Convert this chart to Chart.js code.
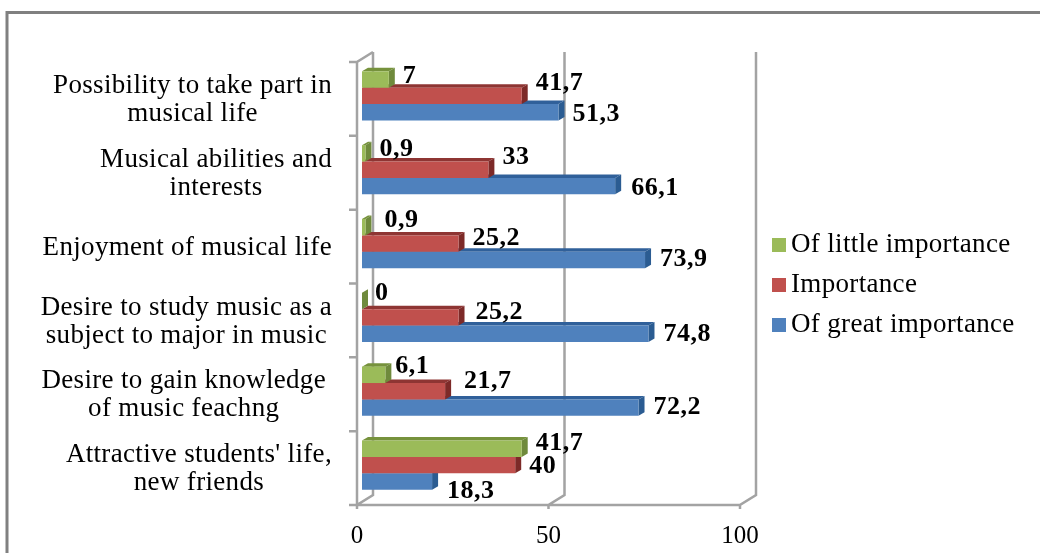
<!DOCTYPE html>
<html>
<head>
<meta charset="utf-8">
<style>
  html, body { margin: 0; padding: 0; background: #fff; }
  #wrap { width: 1040px; height: 553px; }
</style>
<script src="https://cdn.jsdelivr.net/npm/chart.js@4"></script>
</head>
<body>
<div id="wrap"><canvas id="grafico" width="1040" height="553"></canvas></div>
<script>
// Dados
const categorias = [
  ['Possibility to take part in', 'musical life'],
  ['Musical abilities and', 'interests'],
  ['Enjoyment of musical life'],
  ['Desire to study music as a', 'subject to major in music'],
  ['Desire to gain knowledge', 'of music feachng'],
  ["Attractive students' life,", 'new friends']
];
const poucaImportancia = [7, 0.9, 0.9, 0, 6.1, 41.7];
const importancia = [41.7, 33, 25.2, 25.2, 21.7, 40];
const grandeImportancia = [51.3, 66.1, 73.9, 74.8, 72.2, 18.3];
const ticksX = [0, 50, 100];

// Deslocamento dos rótulos em relação ao fim da barra
const ajusteRotulos = [
  [[14, -5], [14, -6], [19, -8], [13, -9], [10, -10], [14, -7]],
  [[14, -14], [14, -14], [14, -7], [17, -7], [19, -11], [14, 0]],
  [[14, 0], [16, 1], [15, -2], [15, -1], [15, -2], [15, 8]]
];
const ajusteCategorias = [0, 0, 0, 0, -6, 0];
const coresLaterais = ['#6f8a3c', '#7d2a28', '#2b5c92'];
const coresTopo = ['#76923c', '#8e3533', '#30609a'];

const FONTE = '"Liberation Serif"';
const CINZA = '#a3a3a3';

// Paredes, eixos e moldura
const pluginFundo = {
  id: 'fundo',
  beforeDatasetsDraw(chart) {
    const { ctx, chartArea, scales: { x } } = chart;
    const base = chartArea.bottom + 3;
    const topo = chartArea.top + 3;
    ctx.save();
    ctx.strokeStyle = '#808080';
    ctx.lineWidth = 3;
    ctx.beginPath();
    ctx.moveTo(1040, 12.5);
    ctx.lineTo(7, 12.5);
    ctx.lineTo(7, 553);
    ctx.stroke();

    ctx.strokeStyle = CINZA;
    ctx.lineWidth = 2.5;
    ctx.beginPath();
    ticksX.forEach(v => {
      const px = x.getPixelForValue(v) - 5;
      ctx.moveTo(px, base + 4);
      ctx.lineTo(px, base);
      ctx.lineTo(px + 16, base - 10);
      ctx.lineTo(px + 16, topo - 10);
    });
    const x0 = x.getPixelForValue(0) - 5;
    ctx.moveTo(x0 + 16, topo - 10);
    ctx.lineTo(x0, topo);
    ctx.lineTo(x0, base);
    ctx.lineTo(x.getPixelForValue(100) - 5, base);
    for (let i = 0; i <= categorias.length; i++) {
      const py = topo + (base - topo) * i / categorias.length;
      ctx.moveTo(x0 - 8, py);
      ctx.lineTo(x0, py);
    }
    ctx.stroke();
    ctx.restore();
  },
  // Faces laterais de cada barra
  beforeDatasetDraw(chart, args) {
    const { ctx } = chart;
    const i = args.index;
    const dx = 6, dy = 3.5;
    ctx.save();
    chart.getDatasetMeta(i).data.forEach(bar => {
      const t = bar.y - bar.height / 2;
      const b = bar.y + bar.height / 2;
      ctx.fillStyle = coresTopo[i];
      ctx.beginPath();
      ctx.moveTo(bar.base, t);
      ctx.lineTo(bar.base + dx, t - dy);
      ctx.lineTo(bar.x + dx, t - dy);
      ctx.lineTo(bar.x, t);
      ctx.fill();
      ctx.fillStyle = coresLaterais[i];
      ctx.beginPath();
      ctx.moveTo(bar.x, t);
      ctx.lineTo(bar.x + dx, t - dy);
      ctx.lineTo(bar.x + dx, b - dy);
      ctx.lineTo(bar.x, b);
      ctx.fill();
    });
    ctx.restore();
  }
};

// Rótulos, categorias e legenda
const pluginTextos = {
  id: 'textos',
  afterDraw(chart) {
    const { ctx, scales: { y } } = chart;
    ctx.save();
    ctx.fillStyle = '#000';
    ctx.textBaseline = 'middle';

    ctx.font = 'bold 26px ' + FONTE;
    ctx.letterSpacing = '0.5px';
    ctx.textAlign = 'left';
    chart.data.datasets.forEach((ds, i) => {
      chart.getDatasetMeta(i).data.forEach((bar, j) => {
        const texto = String(ds.data[j]).replace('.', ',');
        const [dx, dy] = ajusteRotulos[i][j];
        ctx.fillText(texto, bar.x + dx, bar.y + dy + 1.5);
      });
    });

    ctx.font = '27px ' + FONTE;
    ctx.letterSpacing = '0.33px';
    ctx.textAlign = 'center';
    categorias.forEach((linhas, j) => {
      const cy = y.getPixelForValue(j) + 4;
      const largura = Math.max(...linhas.map(l => ctx.measureText(l).width));
      const cx = 332 + ajusteCategorias[j] - largura / 2;
      linhas.forEach((l, k) => {
        ctx.fillText(l, cx, cy + (k - (linhas.length - 1) / 2) * 28);
      });
    });

    ctx.textAlign = 'left';
    chart.data.datasets.forEach((ds, i) => {
      const py = 245 + i * 40;
      ctx.fillStyle = ds.backgroundColor;
      ctx.fillRect(772, py - 7, 14, 14);
      ctx.fillStyle = '#000';
      ctx.fillText(ds.label, 791, py);
    });
    ctx.restore();
  }
};

new Chart(document.getElementById('grafico'), {
  type: 'bar',
  data: {
    labels: categorias,
    datasets: [
      { label: 'Of little importance', data: poucaImportancia, backgroundColor: '#9bbb59' },
      { label: 'Importance', data: importancia, backgroundColor: '#c0504d' },
      { label: 'Of great importance', data: grandeImportancia, backgroundColor: '#4f81bd' }
    ]
  },
  options: {
    indexAxis: 'y',
    responsive: false,
    animation: false,
    layout: { padding: { left: 362, right: 295, top: 59, bottom: 3 } },
    datasets: { bar: { categoryPercentage: 0.667, barPercentage: 1, borderSkipped: false } },
    plugins: { legend: { display: false }, tooltip: { enabled: false } },
    scales: {
      x: {
        min: 0,
        max: 100,
        afterFit: s => { s.height = 48; },
        afterBuildTicks: s => { s.ticks = ticksX.map(value => ({ value })); },
        grid: { display: false },
        border: { display: false },
        ticks: {
          font: { family: FONTE, size: 25 },
          color: '#000',
          padding: 11,
          labelOffset: -5,
          maxRotation: 0
        }
      },
      y: {
        display: false,
        grid: { display: false }
      }
    }
  },
  plugins: [pluginFundo, pluginTextos]
});
</script>
</body>
</html>
